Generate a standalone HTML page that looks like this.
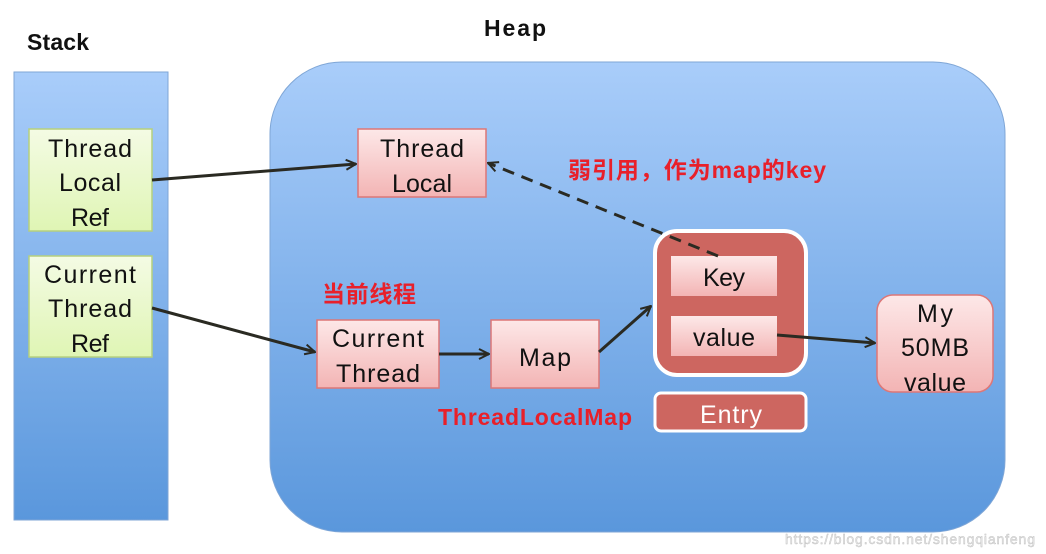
<!DOCTYPE html>
<html><head><meta charset="utf-8"><style>
html,body{margin:0;padding:0;background:#fff;}
svg{display:block;}
text{font-family:"Liberation Sans","Noto Sans CJK SC",sans-serif;}
</style></head><body>
<svg width="1046" height="554" viewBox="0 0 1046 554" xmlns="http://www.w3.org/2000/svg">
<defs>
<linearGradient id="blue" x1="0" y1="0" x2="0" y2="1"><stop offset="0" stop-color="#a9cdfa"/><stop offset="1" stop-color="#5a97dc"/></linearGradient>
<linearGradient id="green" x1="0" y1="0" x2="0" y2="1"><stop offset="0" stop-color="#f4fbe4"/><stop offset="1" stop-color="#dff5b4"/></linearGradient>
<linearGradient id="pink" x1="0" y1="0" x2="0" y2="1"><stop offset="0" stop-color="#fde8e8"/><stop offset="1" stop-color="#f3b4b4"/></linearGradient>
<marker id="ar" viewBox="0 0 12 12" refX="11" refY="6" markerWidth="12" markerHeight="12" markerUnits="userSpaceOnUse" orient="auto"><path d="M1,1 L11,6 L1,11" fill="none" stroke="#2a2a22" stroke-width="2"/></marker>
</defs>
<text x="27" y="50" font-size="23" font-weight="bold" fill="#111" textLength="62">Stack</text>
<text x="484" y="36" font-size="23" font-weight="bold" fill="#111" textLength="62">Heap</text>
<rect x="14" y="72" width="154" height="448" fill="url(#blue)" stroke="#7fa6d6" stroke-width="1"/>
<rect x="270" y="62" width="735" height="470" rx="72" fill="url(#blue)" stroke="#7fa6d6" stroke-width="1"/>
<g font-size="25" fill="#111" text-anchor="middle">
<rect x="29" y="129" width="123" height="102" fill="url(#green)" stroke="#b5d07e" stroke-width="1.5"/>
<text x="90" y="157" textLength="84">Thread</text><text x="90" y="191" textLength="62">Local</text><text x="90" y="226" textLength="38">Ref</text>
<rect x="29" y="256" width="123" height="101" fill="url(#green)" stroke="#b5d07e" stroke-width="1.5"/>
<text x="90" y="283" textLength="92">Current</text><text x="90" y="317" textLength="84">Thread</text><text x="90" y="352" textLength="38">Ref</text>
<rect x="358" y="129" width="128" height="68" fill="url(#pink)" stroke="#d77" stroke-width="1.5"/>
<text x="422" y="157" textLength="84">Thread</text><text x="422" y="192" textLength="60">Local</text>
<rect x="317" y="320" width="122" height="68" fill="url(#pink)" stroke="#d77" stroke-width="1.5"/>
<text x="378" y="347" textLength="92">Current</text><text x="378" y="382" textLength="84">Thread</text>
<rect x="491" y="320" width="108" height="68" fill="url(#pink)" stroke="#d77" stroke-width="1.5"/>
<text x="545" y="366" textLength="52">Map</text>
<rect x="655" y="231" width="151" height="144" rx="22" fill="#cd6660" stroke="#fff" stroke-width="4"/>
<rect x="671" y="256" width="106" height="40" fill="url(#pink)"/>
<text x="724" y="286" textLength="42">Key</text>
<rect x="671" y="316" width="106" height="40" fill="url(#pink)"/>
<text x="724" y="346" textLength="62">value</text>
<rect x="655" y="393" width="151" height="38" rx="6" fill="#cd6660" stroke="#fff" stroke-width="3"/>
<text x="731" y="423" fill="#fff" textLength="62">Entry</text>
<rect x="877" y="295" width="116" height="97" rx="16" fill="url(#pink)" stroke="#d77" stroke-width="1.5"/>
<text x="935" y="322" textLength="36">My</text><text x="935" y="356" textLength="68">50MB</text><text x="935" y="391" textLength="62">value</text>
</g>
<g stroke="#2a2a22" stroke-width="3" fill="none">
<line x1="152" y1="180" x2="356" y2="164" marker-end="url(#ar)"/>
<line x1="152" y1="308" x2="315" y2="352" marker-end="url(#ar)"/>
<line x1="439" y1="354" x2="489" y2="354" marker-end="url(#ar)"/>
<line x1="599" y1="352" x2="651" y2="306" marker-end="url(#ar)"/>
<line x1="777" y1="335" x2="875" y2="343" marker-end="url(#ar)"/>
<line x1="718" y1="256" x2="488" y2="163" stroke-dasharray="12,8" marker-end="url(#ar)"/>
</g>
<g font-size="23" font-weight="bold" fill="#e8202a">
<text x="322" y="302" textLength="94">当前线程</text>
<text x="438" y="425" textLength="194">ThreadLocalMap</text>
<text x="568" y="178" textLength="258">弱引用，作为map的key</text>
</g>
<text x="785" y="544" font-size="14" fill="#e8e8e8" stroke="#bbb" stroke-width="0.4" textLength="250">https://blog.csdn.net/shengqianfeng</text>
</svg>
</body></html>
